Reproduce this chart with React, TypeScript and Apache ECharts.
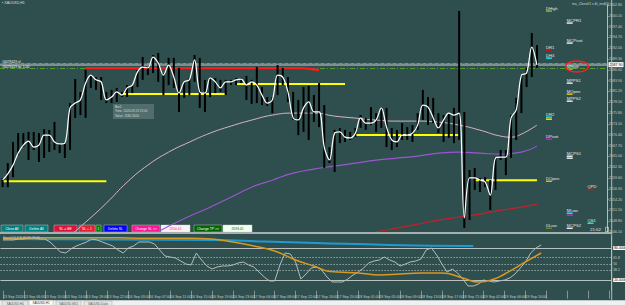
import React, { useEffect, useRef } from "react";
import * as echarts from "echarts";

// ---------- time axis ----------
const tickLabels = [
  "13 Sep 2024", "13 Sep 06:00", "13 Sep 10:00", "13 Sep 14:00", "13 Sep 18:00", "13 Sep 22:00",
  "16 Sep 03:00", "16 Sep 07:00", "16 Sep 11:00", "16 Sep 15:00", "16 Sep 19:00", "16 Sep 23:00",
  "17 Sep 04:00", "17 Sep 08:00", "17 Sep 12:00", "17 Sep 16:00", "17 Sep 20:00", "18 Sep 01:00",
  "18 Sep 05:00", "18 Sep 09:00", "18 Sep 13:00", "18 Sep 17:00", "18 Sep 21:00", "19 Sep 02:00",
  "19 Sep 06:00", "19 Sep 10:00",
];
const slotCount = 117;

// ---------- H1 bars (XAUUSD) ----------
const highs = [
  2559.6, 2563.3, 2568.6, 2570.8, 2570.8, 2571.1, 2571.1, 2570.8, 2571.8, 2571.6,
  2573.6, 2568.3, 2568.6, 2578.3, 2584.3, 2581.1, 2586.6, 2585.3, 2584.8, 2584.8,
  2581.1, 2581.6, 2582.1, 2581.1, 2582.8, 2582.8, 2586.6, 2589.8, 2587.3, 2590.3,
  2590.8, 2585.8, 2589.6, 2589.6, 2587.1, 2583.6, 2584.6, 2590.3, 2589.6, 2584.1,
  2584.8, 2584.6, 2584.1, 2584.1, 2584.1, 2584.6, 2584.6, 2585.1, 2584.1, 2587.3,
  2582.3, 2579.8, 2579.8, 2587.8, 2587.1, 2584.8, 2581.1, 2579.1, 2582.3, 2582.6,
  2580.3, 2583.3, 2577.8, 2567.3, 2571.6, 2572.1, 2571.6, 2571.1, 2572.1, 2575.3,
  2574.6, 2577.3, 2575.8, 2577.3, 2577.1, 2572.1, 2571.6, 2573.3, 2572.3, 2572.8,
  2575.8, 2581.6, 2579.8, 2579.6, 2575.8, 2575.3, 2575.8, 2577.1, 2601.3, 2576.1,
  2561.6, 2562.1, 2559.6, 2559.8, 2559.1, 2564.8, 2566.6, 2566.6, 2575.3, 2579.6,
  2585.3, 2587.1, 2595.8, 2592.8,
];
const lows = [
  2557.3, 2557.3, 2559.8, 2565.3, 2567.3, 2564.1, 2566.6, 2563.6, 2564.6, 2566.1,
  2566.6, 2565.8, 2564.6, 2566.6, 2574.6, 2575.3, 2574.6, 2582.1, 2581.6, 2579.1,
  2578.3, 2578.3, 2578.6, 2579.8, 2579.8, 2580.8, 2582.3, 2584.1, 2585.3, 2585.8,
  2583.6, 2580.3, 2582.8, 2582.1, 2576.1, 2579.6, 2580.3, 2583.6, 2577.1, 2576.1,
  2579.8, 2580.8, 2581.1, 2580.3, 2582.8, 2582.8, 2583.3, 2579.1, 2578.1, 2578.3,
  2577.8, 2577.6, 2575.8, 2580.3, 2582.8, 2578.6, 2574.1, 2570.3, 2571.1, 2569.1,
  2573.6, 2572.3, 2562.1, 2563.3, 2561.1, 2568.3, 2568.6, 2569.1, 2569.8, 2572.1,
  2571.6, 2572.8, 2571.1, 2572.1, 2567.3, 2566.6, 2567.3, 2569.1, 2569.1, 2568.6,
  2571.6, 2574.1, 2572.8, 2573.3, 2570.8, 2568.6, 2569.6, 2568.3, 2569.1, 2547.1,
  2549.1, 2556.6, 2556.1, 2557.3, 2551.6, 2556.6, 2564.1, 2560.3, 2564.6, 2569.1,
  2575.8, 2582.3, 2584.8, 2587.1,
];
const closes = [
  2559.1, 2560.6, 2562.8, 2565.8, 2567.8, 2568.8, 2567.3, 2567.8, 2570.3, 2570.3,
  2568.6, 2568.1, 2568.3, 2577.1, 2578.3, 2579.1, 2583.3, 2585.3, 2584.1, 2583.6,
  2579.1, 2579.8, 2581.1, 2580.3, 2582.1, 2582.8, 2586.1, 2587.3, 2587.1, 2589.8,
  2588.3, 2585.3, 2587.8, 2584.8, 2580.8, 2583.6, 2584.1, 2589.1, 2581.1, 2580.8,
  2584.6, 2583.6, 2582.1, 2583.6, 2583.6, 2584.1, 2584.3, 2582.8, 2583.6, 2582.8,
  2580.3, 2578.3, 2579.1, 2585.3, 2584.8, 2581.1, 2574.6, 2574.1, 2577.1, 2578.6,
  2576.1, 2576.1, 2567.3, 2564.1, 2570.8, 2571.1, 2569.8, 2569.6, 2570.8, 2574.6,
  2573.3, 2573.3, 2574.1, 2577.1, 2572.3, 2569.1, 2568.6, 2570.3, 2570.3, 2570.8,
  2572.8, 2577.8, 2577.3, 2574.6, 2572.1, 2574.1, 2575.8, 2575.3, 2575.8, 2549.6,
  2559.6, 2559.6, 2559.1, 2558.6, 2555.3, 2564.6, 2564.8, 2564.8, 2574.6, 2576.6,
  2585.3, 2585.8, 2592.3, 2587.8,
];

// ---------- moving averages (sampled every few bars) ----------
const pinkIdx = [12, 16, 20, 24, 28, 32, 36, 40, 44, 48, 52, 56, 60, 64, 68, 72, 76, 80, 84, 88, 92, 96, 98, 100, 103];
const pinkVal = [2544.05, 2548.55, 2553.3, 2558.55, 2562.8, 2566.05, 2568.55, 2570.8, 2572.55, 2574.05, 2575.3, 2575.8, 2575.8, 2575.05, 2574.55, 2574.05, 2573.8, 2573.8, 2573.55, 2572.8, 2571.55, 2570.05, 2569.8, 2570.55, 2572.8];
const purpleIdx = [28, 32, 36, 40, 44, 48, 52, 56, 60, 64, 68, 72, 76, 80, 84, 88, 92, 96, 100, 103];
const purpleVal = [2544.8, 2547.55, 2550.05, 2552.3, 2554.8, 2557.3, 2559.05, 2560.8, 2561.8, 2562.55, 2563.3, 2564.05, 2564.55, 2565.05, 2565.8, 2566.05, 2565.8, 2565.55, 2566.05, 2567.55];
const redMaIdx = [70, 72, 76, 80, 84, 88, 92, 96, 100, 103];
const redMaVal = [2545.3, 2546.05, 2547.05, 2548.05, 2549.05, 2549.8, 2550.55, 2551.55, 2552.3, 2553.05];

// ---------- horizontal levels ----------
const yellowFrom = [0, 23, 45, 68, 91];
const yellowTo = [20, 43, 66, 88, 103];
const yellowPrice = [2558.8, 2580.55, 2583.05, 2570.3, 2559.05];
const redLineIdx = [16, 58, 61];
const redLineVal = [2587.05, 2587.05, 2586.55];
const bidPrice = 2587.9;
const askPrice = 2588.3;
const orderPrice = 2587.05;

// ---------- pivot labels ----------
const pivotNames = ["DHigh", "MCPR1", "MCPivot", "DR1", "DH4", "MHigh", "MPPS1", "MOpen", "MPPS2", "DR2", "", "DPivot", "MCPS1", "", "DOpen", "QPD", "MLow", "", "QS1", "DLow", "MCPS2"];
const pivotSlot = [105, 109, 109, 105, 105, 109, 109, 109, 109, 105, 105, 105, 109, 109, 105, 113, 109, 109, 113, 105, 109];
const pivotPrice = [2601.3, 2598.3, 2593.3, 2591.55, 2589.55, 2586.8, 2583.3, 2580.55, 2578.8, 2574.8, 2574.3, 2569.3, 2565.05, 2564.55, 2558.8, 2556.8, 2550.8, 2550.3, 2548.3, 2547.05, 2547.05];
const pivotColor = ["#9acd32", "#ffffff", "#ffffff", "#ff0000", "#00ffff", "#9acd32", "#ffffff", "#ffd700", "#ffffff", "#00ffff", "#ffff00", "#ff00ff", "#ffffff", "#ffffff", "#ffc800", "#ff0000", "#00ffff", "#ff00ff", "#00ffff", "#6b8e23", "#ffffff"];

// ---------- oscillator ----------
const stochMain = [
  95.0, 95.0, 95.0, 96.8, 96.8, 98.7, 98.7, 96.8, 96.8, 91.2,
  81.8, 72.5, 70.6, 78.1, 83.7, 87.5, 91.2, 96.8, 95.0, 91.2,
  87.5, 83.7, 76.2, 70.6, 80.0, 83.7, 91.2, 91.2, 91.2, 87.5,
  76.2, 65.0, 63.1, 61.2, 55.6, 50.0, 48.1, 70.6, 57.5, 46.3,
  40.6, 44.4, 46.3, 46.3, 48.1, 51.9, 53.8, 48.1, 44.4, 35.0,
  25.7, 18.2, 18.2, 48.1, 70.6, 68.7, 53.8, 21.9, 31.3, 42.5,
  44.4, 38.8, 25.7, 16.3, 16.3, 16.3, 21.9, 29.4, 35.0, 42.5,
  51.9, 55.6, 57.5, 63.1, 57.5, 53.8, 46.3, 50.0, 53.8, 55.6,
  59.4, 76.2, 80.0, 66.8, 50.0, 35.0, 40.6, 33.2, 21.9, 8.8,
  8.8, 12.5, 20.0, 18.2, 16.3, 18.2, 20.0, 23.8, 31.3, 42.5,
  53.8, 70.6, 80.0, 85.6,
];
const orangeIdx = [0, 4, 8, 12, 16, 20, 24, 28, 32, 36, 40, 44, 48, 52, 56, 60, 62, 64, 68, 72, 76, 80, 84, 88, 91, 94, 96, 100, 103];
const orangeVal = [98.0, 98.7, 99.2, 99.2, 99.2, 99.2, 98.7, 98.0, 98.0, 98.0, 96.8, 91.2, 83.7, 74.4, 57.5, 44.4, 36.9, 35.0, 33.2, 29.4, 31.3, 33.2, 33.2, 23.8, 16.3, 21.9, 31.3, 53.8, 70.6];
const blueIdx = [0, 20, 40, 50, 60, 74, 90];
const blueVal = [96.8, 95.9, 95.0, 92.2, 89.3, 85.6, 83.7];

const FONT = "Liberation Sans, Arial, sans-serif";

function pairs(idx: number[], val: number[]) {
  return idx.map((x, k) => [x, val[k]]);
}

function button(x: number, w: number, fill: string, text: string, color: string) {
  return {
    type: "group",
    z: 100,
    children: [
      { type: "rect", shape: { x, y: 225, width: w, height: 7 }, style: { fill, stroke: "rgba(210,210,210,0.7)", lineWidth: 0.6 } },
      { type: "text", x: x + w / 2, y: 228.6, style: { text, fill: color, font: `3.4px ${FONT}`, align: "center", verticalAlign: "middle" } },
    ],
  };
}

function txt(x: number, y: number, text: string, size: number, fill: string, align = "left") {
  return { type: "text", z: 100, x, y, style: { text, fill, font: `${size}px ${FONT}`, align, verticalAlign: "middle" } };
}

export default function App() {
  const ref = useRef<HTMLDivElement>(null);
  useEffect(() => {
    const chart = echarts.init(ref.current!, null, { renderer: "svg" });
    const categories = Array.from({ length: slotCount }, (_, i) => String(i));
    const lvlLabel = (t: string, box: boolean) => ({
      show: true,
      position: "end",
      distance: 1.5,
      formatter: t,
      fontSize: 3.4,
      fontFamily: FONT,
      color: box ? "#000" : "#c8cccc",
      backgroundColor: box ? "#ffffff" : "transparent",
      padding: box ? [0.5, 1] : 0,
    });
    const yellowSeries = yellowFrom.map((f, k) => ({
      type: "line",
      xAxisIndex: 0,
      yAxisIndex: 0,
      data: [[f, yellowPrice[k]], [yellowTo[k], yellowPrice[k]]],
      symbol: "none",
      silent: true,
      z: 3,
      lineStyle: { color: "#ffff00", width: 2 },
    }));

    const option: any = {
      animation: false,
      backgroundColor: "#2f4f4f",
      grid: [
        { left: -1.6, right: 13.3, top: 5, height: 227 },
        { left: -1.6, right: 13.3, top: 237.3, height: 53.4 },
      ],
      xAxis: [
        { type: "category", gridIndex: 0, data: categories, show: false, boundaryGap: true },
        {
          type: "category",
          gridIndex: 1,
          data: categories,
          boundaryGap: true,
          axisLine: { show: false },
          axisTick: { show: true, interval: 3, alignWithLabel: true, length: 8, lineStyle: { color: "#9aa6a6", width: 0.8 } },
          axisLabel: {
            interval: 3,
            align: "left",
            margin: 4.5,
            fontSize: 3.6,
            fontFamily: FONT,
            color: "#c8cccc",
            formatter: (_v: string, idx: number) => tickLabels[idx / 4] ?? "",
          },
          splitLine: { show: false },
        },
      ],
      yAxis: [
        {
          type: "value",
          gridIndex: 0,
          position: "right",
          min: 2546.1,
          max: 2602.8,
          interval: 2.7,
          axisLine: { show: true, lineStyle: { color: "#b4bcbc", width: 1 } },
          axisTick: { show: true, length: 1.5, lineStyle: { color: "#b4bcbc" } },
          axisLabel: { fontSize: 3.6, fontFamily: FONT, color: "#c8cccc", margin: 2, formatter: (v: number) => v.toFixed(2) },
          splitLine: { show: false },
        },
        {
          type: "value",
          gridIndex: 1,
          position: "right",
          min: 0,
          max: 100,
          axisLine: { show: true, lineStyle: { color: "#b4bcbc", width: 1 } },
          axisTick: { show: false },
          axisLabel: { show: false },
          splitLine: { show: false },
        },
      ],
      series: [
        {
          type: "line",
          xAxisIndex: 0,
          yAxisIndex: 0,
          data: pairs(pinkIdx, pinkVal),
          smooth: true,
          symbol: "none",
          silent: true,
          z: 2,
          lineStyle: { color: "#dcb4c0", width: 1 },
          markLine: {
            z: 1,
            symbol: ["none", "none"],
            silent: true,
            data: [
              { yAxis: bidPrice, lineStyle: { color: "#7f8e8e", width: 3, type: "solid" }, label: { ...lvlLabel(bidPrice.toFixed(2), true), fontSize: 3.6 } },
              { yAxis: askPrice, lineStyle: { color: "#d23c3c", width: 1, type: [3, 3] }, label: { show: false } },
              { yAxis: orderPrice, lineStyle: { color: "#4ea02a", width: 1, type: [5, 2, 1, 2] }, label: { show: false } },
            ],
          },
        },
        {
          type: "line",
          xAxisIndex: 0,
          yAxisIndex: 0,
          data: pairs(purpleIdx, purpleVal),
          smooth: true,
          symbol: "none",
          silent: true,
          z: 2,
          lineStyle: { color: "#9b55d0", width: 1.1 },
        },
        {
          type: "line",
          xAxisIndex: 0,
          yAxisIndex: 0,
          data: pairs(redMaIdx, redMaVal),
          smooth: true,
          symbol: "none",
          silent: true,
          z: 2,
          lineStyle: { color: "#c81e28", width: 1.2 },
        },
        ...yellowSeries,
        {
          type: "line",
          xAxisIndex: 0,
          yAxisIndex: 0,
          data: pairs(redLineIdx, redLineVal),
          symbol: "none",
          silent: true,
          z: 3,
          lineStyle: { color: "#ff1a1a", width: 2.2 },
        },
        {
          type: "custom",
          xAxisIndex: 0,
          yAxisIndex: 0,
          silent: true,
          z: 4,
          encode: { x: 0, y: [1, 2] },
          data: highs.map((h, i) => [i, lows[i], h]),
          renderItem: (_p: any, api: any) => {
            const x = api.value(0);
            const lo = api.coord([x, api.value(1)]);
            const hi = api.coord([x, api.value(2)]);
            return {
              type: "rect",
              shape: { x: hi[0] - 1, y: hi[1], width: 2, height: Math.max(lo[1] - hi[1], 1) },
              style: { fill: "#000000" },
            };
          },
        },
        {
          type: "line",
          xAxisIndex: 0,
          yAxisIndex: 0,
          data: closes,
          smooth: 0.35,
          symbol: "none",
          silent: true,
          z: 5,
          lineStyle: { color: "#ffffff", width: 1.2 },
        },
        {
          type: "custom",
          xAxisIndex: 0,
          yAxisIndex: 0,
          silent: true,
          z: 6,
          encode: { x: 0, y: 1 },
          data: pivotSlot.map((s, i) => [s, pivotPrice[i]]),
          renderItem: (params: any, api: any) => {
            const i = params.dataIndex;
            const pt = api.coord([api.value(0), api.value(1)]);
            const children: any[] = [
              { type: "rect", shape: { x: pt[0] - 1.4, y: pt[1] - 0.6, width: 6, height: 1.3 }, style: { fill: pivotColor[i] } },
            ];
            if (pivotNames[i]) {
              children.push({
                type: "text",
                x: pt[0] - 1.4,
                y: pt[1] - 0.6,
                style: { text: pivotNames[i], fill: "#e4e4e4", font: `4.2px ${FONT}`, align: "left", verticalAlign: "bottom" },
              });
            }
            return { type: "group", children };
          },
        },
        {
          type: "line",
          xAxisIndex: 1,
          yAxisIndex: 1,
          data: pairs(blueIdx, blueVal),
          smooth: true,
          symbol: "none",
          silent: true,
          z: 2,
          lineStyle: { color: "#1e9bd2", width: 2 },
        },
        {
          type: "line",
          xAxisIndex: 1,
          yAxisIndex: 1,
          data: stochMain,
          symbol: "none",
          silent: true,
          z: 3,
          lineStyle: { color: "#b4bcbc", width: 1 },
          markLine: {
            z: 1,
            symbol: ["none", "none"],
            silent: true,
            data: [
              { yAxis: 100, lineStyle: { opacity: 0 }, label: lvlLabel("100", false) },
              { yAxis: 80, lineStyle: { color: "#b8c0c0", width: 1, type: "solid" }, label: lvlLabel("80.0000", true) },
              { yAxis: 61.8, lineStyle: { color: "#96a2a2", width: 1, type: [1.5, 1.5] }, label: lvlLabel("61.8", false) },
              { yAxis: 50, lineStyle: { color: "#96a2a2", width: 1, type: [1.5, 1.5] }, label: lvlLabel("50", false) },
              { yAxis: 38.2, lineStyle: { color: "#96a2a2", width: 1, type: [1.5, 1.5] }, label: lvlLabel("38.2", false) },
              { yAxis: 20, lineStyle: { color: "#b8c0c0", width: 1, type: "solid" }, label: lvlLabel("20.0000", true) },
              { yAxis: 0, lineStyle: { opacity: 0 }, label: lvlLabel("0", false) },
            ],
          },
        },
        {
          type: "line",
          xAxisIndex: 1,
          yAxisIndex: 1,
          data: pairs(orangeIdx, orangeVal),
          smooth: true,
          symbol: "none",
          silent: true,
          z: 4,
          lineStyle: { color: "#d9991e", width: 1.5 },
        },
      ],
      graphic: [
        { type: "line", z: 99, shape: { x1: 0, y1: 233, x2: 611.7, y2: 233 }, style: { stroke: "#a5afaf", lineWidth: 2 } },
        { type: "line", z: 99, shape: { x1: 611.7, y1: 0, x2: 611.7, y2: 300 }, style: { stroke: "#b4bcbc", lineWidth: 1 } },
        txt(2, 3, "▪ XAUUSD,H1", 3.6, "#dcdcdc"),
        txt(609, 4, "ma_Close01 s.bl_end(0)", 3.4, "#d0d4d4", "right"),
        txt(2, 62, "#0079419 sl", 3.4, "#ffffff"),
        txt(2, 66.6, "#0079419 tp: 1.00", 3.4, "#ffffff"),
        {
          type: "group",
          z: 100,
          children: [
            { type: "rect", shape: { x: 113, y: 104, width: 41, height: 15 }, style: { fill: "rgba(150,165,165,0.35)" } },
            txt(115, 106.5, "Bar1", 3.1, "#d4dada"),
            txt(115, 111, "Time: 2024.09.13 23:00", 3.1, "#d4dada"),
            txt(115, 115.5, "Value: 2580.5500", 3.1, "#d4dada"),
          ],
        },
        { type: "ellipse", z: 100, shape: { cx: 577, cy: 66.5, rx: 11.5, ry: 5.5 }, style: { fill: "none", stroke: "#ff2020", lineWidth: 1.3 } },
        txt(590, 229.5, "21:02", 4.4, "#e4e4e4"),
        { type: "rect", z: 100, shape: { x: 605.5, y: 227.3, width: 3, height: 4.4 }, style: { fill: "none", stroke: "#e4e4e4", lineWidth: 0.6 } },
        button(1, 22, "#008080", "Close All", "#ffffff"),
        button(25, 23, "#008080", "Delete All", "#ffffff"),
        button(54, 23, "#dc143c", "SL = BE", "#ffffff"),
        button(79, 16, "#e61e32", "SL + 1", "#ffffff"),
        button(96, 5, "#008000", "1", "#ffffff"),
        button(104, 23, "#0000ff", "Delete SL", "#ffffff"),
        button(132, 28, "#ff1493", "Change SL >>", "#ffffff"),
        button(161, 29, "#fff0f5", "2550.41", "#ff1493"),
        button(194, 28, "#006400", "Change TP >>", "#ffffff"),
        button(223, 29, "#f0fff0", "2593.41", "#006400"),
        txt(3, 237.5, "Stoch(14,3,3) 83.81 76.70", 3.2, "#c8cccc"),
        { type: "rect", z: 100, shape: { x: 0, y: 300.3, width: 625, height: 4.7 }, style: { fill: "#f0f0f0" } },
        { type: "rect", z: 101, shape: { x: 2, y: 300.8, width: 26, height: 5 }, style: { fill: "#e6e6e6", stroke: "#a0a0a0", lineWidth: 0.5 } },
        { type: "rect", z: 101, shape: { x: 29, y: 300.3, width: 24, height: 5 }, style: { fill: "#ffffff", stroke: "#a0a0a0", lineWidth: 0.5 } },
        { type: "rect", z: 101, shape: { x: 56, y: 300.8, width: 25, height: 5 }, style: { fill: "#e6e6e6", stroke: "#a0a0a0", lineWidth: 0.5 } },
        { type: "rect", z: 101, shape: { x: 84, y: 300.8, width: 28, height: 5 }, style: { fill: "#e6e6e6", stroke: "#a0a0a0", lineWidth: 0.5 } },
        { ...txt(15, 303.4, "XAUUSD,H4", 3, "#555555", "center"), z: 102 },
        { ...txt(41, 303, "XAUUSD,H1", 3, "#222222", "center"), z: 102 },
        { ...txt(68.5, 303.4, "XAUUSD,M15", 3, "#555555", "center"), z: 102 },
        { ...txt(98, 303.4, "XAUUSD,Daily", 3, "#555555", "center"), z: 102 },
      ],
    };
    chart.setOption(option);
    return () => chart.dispose();
  }, []);
  return (
    <div
      ref={ref}
      style={{ position: "fixed", left: 0, top: 0, width: 625, height: 305, background: "#2f4f4f" }}
    />
  );
}
